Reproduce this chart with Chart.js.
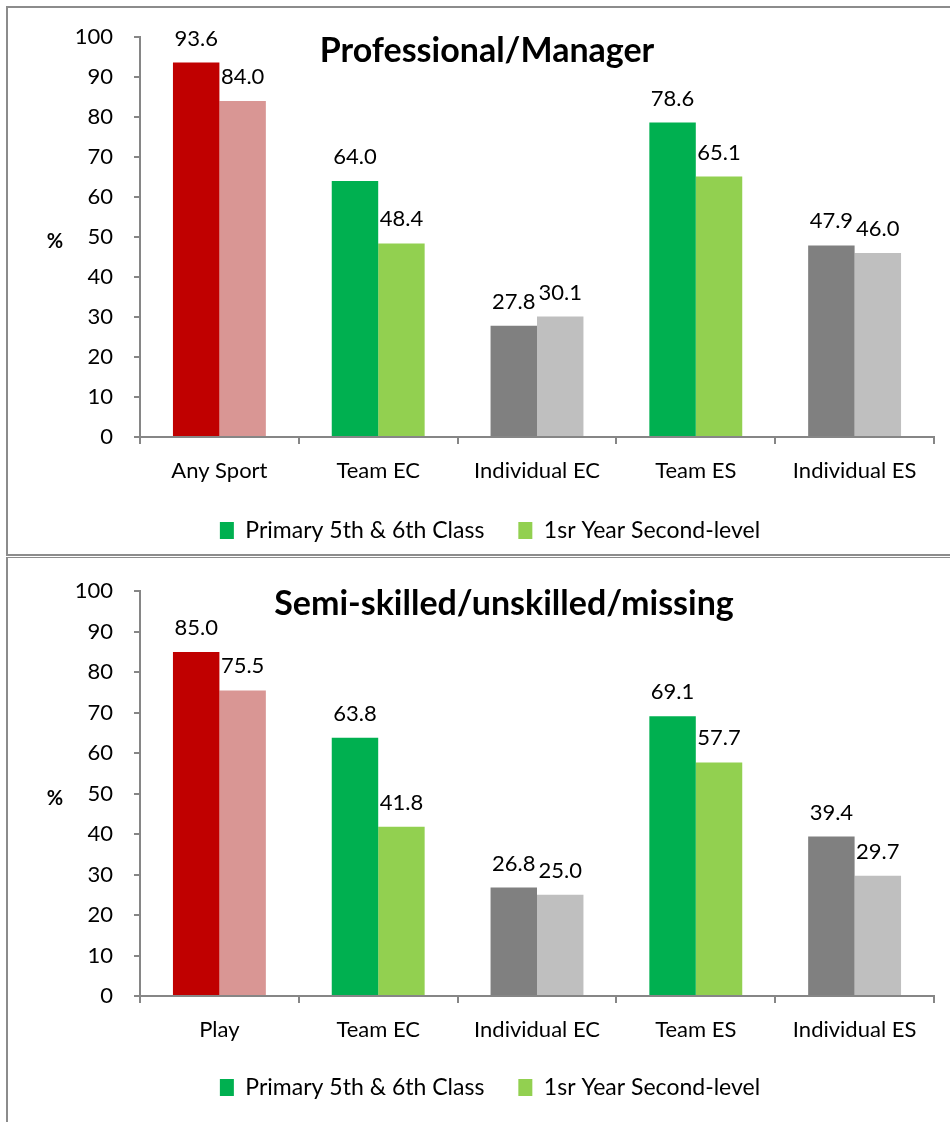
<!DOCTYPE html>
<html>
<head>
<meta charset="utf-8">
<script src="https://cdn.jsdelivr.net/npm/chart.js@4.4.1/dist/chart.umd.min.js"></script>
<style>
  html, body { margin: 0; padding: 0; background: #fff; width: 950px; height: 1122px; overflow: hidden; }
  .wrap { position: absolute; left: 0; width: 950px; }
  #w1 { top: 0; height: 556px; }
  #w2 { top: 557px; height: 565px; }
  .frame { position: absolute; box-sizing: border-box; border-color: #8c8c8c; border-style: solid; pointer-events: none; }
  #f1 { left: 6px; top: 6px; width: 960px; height: 550px; border-width: 2px 0 2px 2px; }
  #f2 { left: 6px; top: 557px; width: 960px; height: 600px; border-width: 1px 0 0 2px; }
</style>
</head>
<body>
<div class="wrap" id="w1"><canvas id="c1" width="950" height="556"></canvas></div>
<div class="wrap" id="w2"><canvas id="c2" width="950" height="565"></canvas></div>
<div class="frame" id="f1"></div>
<div class="frame" id="f2"></div>
<script>
// ---- data ----
const categoriesTop = ['Any Sport', 'Team EC', 'Individual EC', 'Team ES', 'Individual ES'];
const primaryTop = [93.6, 64.0, 27.8, 78.6, 47.9];
const secondTop = [84.0, 48.4, 30.1, 65.1, 46.0];

const categoriesBottom = ['Play', 'Team EC', 'Individual EC', 'Team ES', 'Individual ES'];
const primaryBottom = [85.0, 63.8, 26.8, 69.1, 39.4];
const secondBottom = [75.5, 41.8, 25.0, 57.7, 29.7];

const seriesNames = ['Primary 5th & 6th Class', '1sr Year Second-level'];
const titleTop = 'Professional/Manager';
const titleBottom = 'Semi-skilled/unskilled/missing';
const yTicks = [0, 10, 20, 30, 40, 50, 60, 70, 80, 90, 100];

// ---- styles ----
const darkColors = ['#C00000', '#00B050', '#808080', '#00B050', '#808080'];
const lightColors = ['#D99694', '#92D050', '#BFBFBF', '#92D050', '#BFBFBF'];
const legendColors = ['#00B050', '#92D050'];
const FONT = 'Lato';
const AXIS = '#868686';

function makeChart(id, cats, s1, s2, title, cfg) {
  const titlePlugin = {
    id: 'titleText',
    afterDraw(chart) {
      const ctx = chart.ctx;
      ctx.save();
      ctx.font = 'bold ' + cfg.titleSize + 'px ' + FONT;
      ctx.fillStyle = '#000';
      ctx.textAlign = 'center';
      ctx.textBaseline = 'alphabetic';
      ctx.fillText(title, cfg.titleX, cfg.titleY);
      // % label
      ctx.font = 'bold 20px ' + FONT;
      ctx.textBaseline = 'middle';
      const a = chart.chartArea;
      ctx.fillText('%', 55, (a.top + a.bottom) / 2 + 5);
      ctx.restore();
    }
  };
  const valuePlugin = {
    id: 'valueLabels',
    afterDatasetsDraw(chart) {
      const ctx = chart.ctx;
      ctx.save();
      ctx.font = '22px ' + FONT;
      ctx.fillStyle = '#000';
      ctx.textAlign = 'center';
      ctx.textBaseline = 'alphabetic';
      chart.data.datasets.forEach((ds, i) => {
        const meta = chart.getDatasetMeta(i);
        meta.data.forEach((el, j) => {
          ctx.fillText(Number(ds.data[j]).toFixed(1), el.x, el.y - 17);
        });
      });
      ctx.restore();
    }
  };
  return new Chart(document.getElementById(id), {
    type: 'bar',
    data: {
      labels: cats,
      datasets: [
        { label: seriesNames[0], data: s1, backgroundColor: darkColors, borderWidth: 0 },
        { label: seriesNames[1], data: s2, backgroundColor: lightColors, borderWidth: 0 }
      ]
    },
    options: {
      responsive: false,
      animation: false,
      devicePixelRatio: 1,
      layout: { padding: { top: cfg.padTop, left: 46, right: 16, bottom: cfg.padBottom } },
      datasets: { bar: { categoryPercentage: 0.585, barPercentage: 1.0 } },
      scales: {
        x: {
          afterFit(s) { s.height = cfg.xHeight; },
          grid: { drawOnChartArea: false, drawTicks: true, tickLength: 7, color: AXIS, lineWidth: 2, offset: true },
          border: { color: AXIS, width: 2 },
          ticks: { color: '#000', font: { family: FONT, size: 22 }, padding: 14, maxRotation: 0, autoSkip: false }
        },
        y: {
          min: 0, max: 100,
          afterFit(s) { s.width = 94; },
          afterBuildTicks(s) { s.ticks = yTicks.map(v => ({ value: v })); },
          grid: { drawOnChartArea: false, drawTicks: true, tickLength: 6, color: AXIS, lineWidth: 2 },
          border: { color: AXIS, width: 2 },
          ticks: { color: '#000', font: { family: FONT, size: 22 }, padding: 21 }
        }
      },
      plugins: {
        tooltip: { enabled: false },
        title: { display: false },
        legend: {
          display: true,
          position: 'bottom',
          labels: {
            font: { family: FONT, size: 23 },
            color: '#000',
            boxWidth: 14,
            boxHeight: 17,
            padding: 34,
            generateLabels() {
              return seriesNames.map((n, i) => ({
                text: n, fillStyle: legendColors[i], strokeStyle: legendColors[i], lineWidth: 0, hidden: false, datasetIndex: i
              }));
            }
          }
        }
      }
    },
    plugins: [titlePlugin, valuePlugin]
  });
}

// legend height = 23 + 34 + 10 = 67
makeChart('c1', categoriesTop, primaryTop, secondTop, titleTop,
  { padTop: 37, padBottom: 4, xHeight: 48, titleSize: 34, titleX: 487, titleY: 62 });
makeChart('c2', categoriesBottom, primaryBottom, secondBottom, titleBottom,
  { padTop: 30, padBottom: 13, xHeight: 46, titleSize: 34, titleX: 504, titleY: 58 });
</script>
</body>
</html>
